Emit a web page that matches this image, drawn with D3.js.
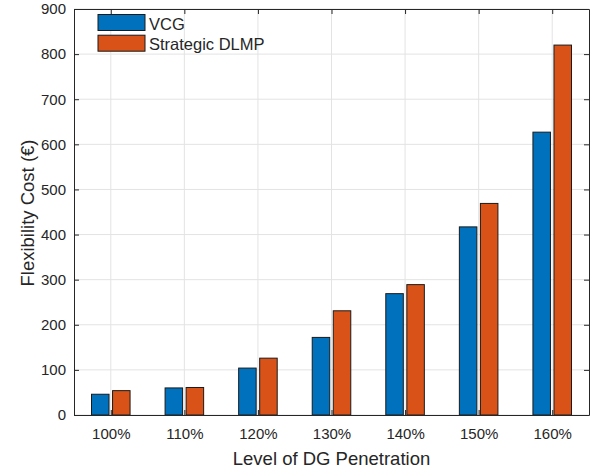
<!DOCTYPE html>
<html>
<head>
<meta charset="utf-8">
<script src="https://cdn.jsdelivr.net/npm/d3@7"></script>
<style>
body { margin: 0; background: #fff; }
text { font-family: "Liberation Sans", Arial, sans-serif; fill: #262626; }
</style>
</head>
<body>
<script>
const width = 595;
const height = 473;
const margin = {top: 9, right: 6, bottom: 58, left: 74};
const innerW = width - margin.left - margin.right;
const innerH = height - margin.top - margin.bottom;

//-----------------------------DATA------------------------------//
const categories = ["100%", "110%", "120%", "130%", "140%", "150%", "160%"];
const vcg = [46, 60, 104, 172, 269, 417, 627];
const strategic = [54, 61, 126, 231, 289, 469, 820];
const seriesNames = ["VCG", "Strategic DLMP"];
const colors = ["#0072BD", "#D95319"];
const yTicks = [0, 100, 200, 300, 400, 500, 600, 700, 800, 900];

const svg = d3.select("body").append("svg")
  .attr("width", width).attr("height", height);
const g = svg.append("g")
  .attr("transform", "translate(" + margin.left + "," + margin.top + ")");

//----------------------------SCALES-----------------------------//
const x = d3.scaleLinear().domain([0.5, 7.5]).range([0, innerW]);
const y = d3.scaleLinear().domain([0, 900]).range([innerH, 0]);
const barW = 0.238;
const offset = 0.143;

//-----------------------------GRID------------------------------//
g.append("g").selectAll("line").data(yTicks).enter().append("line")
  .attr("x1", 0).attr("x2", innerW)
  .attr("y1", d => y(d)).attr("y2", d => y(d))
  .attr("stroke", "#e3e3e3").attr("stroke-width", 1);
g.append("g").selectAll("line").data(categories).enter().append("line")
  .attr("x1", (d, i) => x(i + 1)).attr("x2", (d, i) => x(i + 1))
  .attr("y1", 0).attr("y2", innerH)
  .attr("stroke", "#e3e3e3").attr("stroke-width", 1);

//-----------------------------BARS------------------------------//
const series = [vcg, strategic];
series.forEach(function(vals, s) {
  const dx = s === 0 ? -offset : offset;
  g.append("g").selectAll("rect").data(vals).enter().append("rect")
    .attr("x", (d, i) => x(i + 1 + dx - barW / 2))
    .attr("width", x(barW) - x(0))
    .attr("y", d => y(d))
    .attr("height", d => innerH - y(d))
    .attr("fill", colors[s])
    .attr("stroke", "#1a1a1a").attr("stroke-width", 1);
});

//-----------------------------AXES------------------------------//
const xAxis = d3.axisBottom(x).tickValues(d3.range(1, 8))
  .tickFormat(d => categories[d - 1]).tickSizeInner(-5).tickSizeOuter(0).tickPadding(13);
const yAxis = d3.axisLeft(y).tickValues(yTicks).tickSizeInner(-5).tickSizeOuter(0).tickPadding(8);

g.append("g").attr("transform", "translate(0," + innerH + ")").call(xAxis);
g.append("g").call(yAxis);
g.append("g").call(d3.axisTop(x).tickValues(d3.range(1, 8)).tickFormat("").tickSizeInner(-5).tickSizeOuter(0));
g.append("g").attr("transform", "translate(" + innerW + ",0)")
  .call(d3.axisRight(y).tickValues(yTicks).tickFormat("").tickSizeInner(-5).tickSizeOuter(0));

g.selectAll(".domain").attr("stroke", "#262626").attr("stroke-width", 1);
g.selectAll(".tick line").attr("stroke", "#262626");
g.selectAll(".tick text").style("font-size", "15px").attr("fill", "#262626");

//-----------------------------LABELS------------------------------//
svg.append("text")
  .attr("x", margin.left + innerW / 2).attr("y", 465)
  .attr("text-anchor", "middle").style("font-size", "18.5px")
  .text("Level of DG Penetration");
svg.append("text")
  .attr("transform", "translate(33.5,213) rotate(-90)")
  .attr("text-anchor", "middle").style("font-size", "18.5px")
  .text("Flexibility Cost (€)");

//-----------------------------LEGEND------------------------------//
const legend = svg.append("g").attr("transform", "translate(98,14.5)");
seriesNames.forEach(function(name, i) {
  const row = legend.append("g").attr("transform", "translate(0," + i * 20.7 + ")");
  row.append("rect").attr("width", 47).attr("height", 16)
    .attr("fill", colors[i]).attr("stroke", "#1a1a1a").attr("stroke-width", 1);
  row.append("text").attr("x", 51).attr("y", 15).style("font-size", "16.5px").text(name);
});
</script>
</body>
</html>
